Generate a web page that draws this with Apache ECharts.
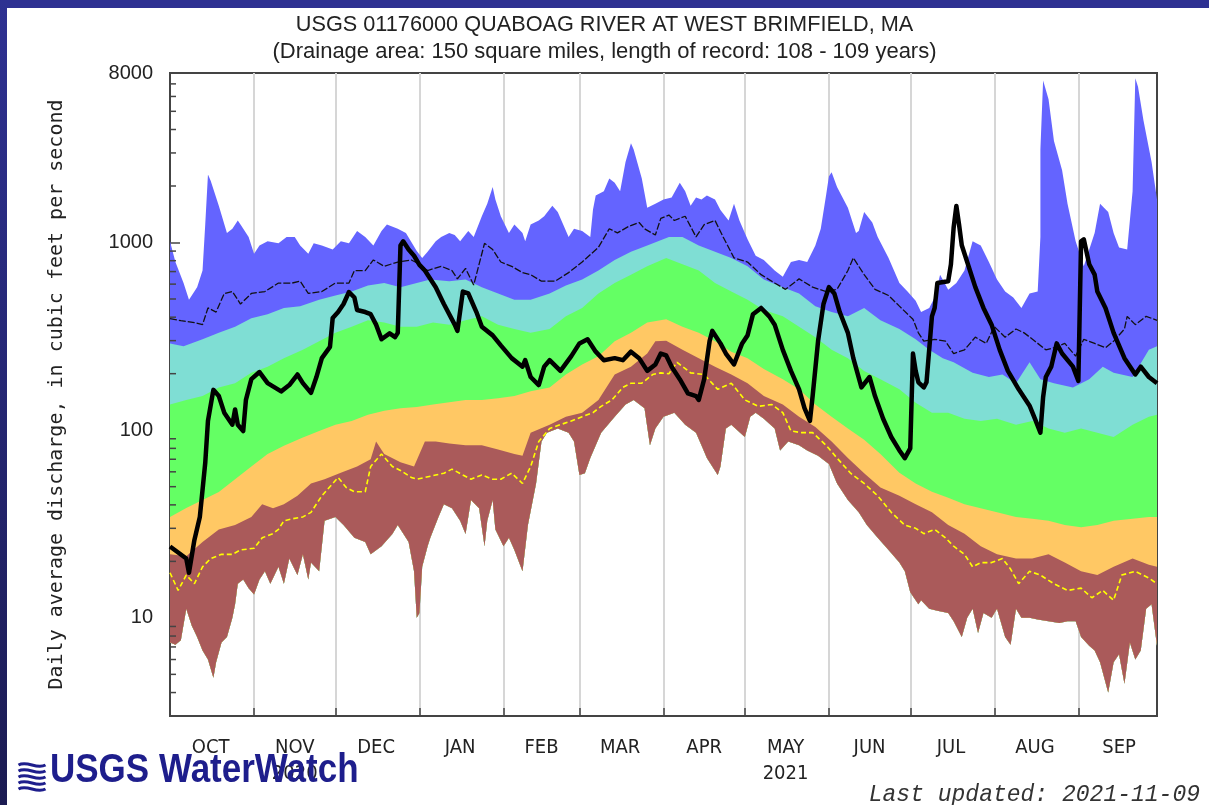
<!DOCTYPE html>
<html><head><meta charset="utf-8">
<script src="https://cdn.jsdelivr.net/npm/echarts@6/dist/echarts.min.js"></script>
<style>html,body{margin:0;padding:0;background:#fff;} #c{width:1209px;height:805px;}</style>
</head><body><div id="c"></div>
<script>
// x = day index, 0 = 2020-10-01 (water year 2021); y = discharge, cfs
const startMs = Date.UTC(2020, 9, 1);
const categories = [];
for (let i = 0; i < 365; i++) categories.push(new Date(startMs + i * 86400000).toISOString().slice(0, 10));
const monthNames = {'10':'OCT','11':'NOV','12':'DEC','01':'JAN','02':'FEB','03':'MAR','04':'APR','05':'MAY','06':'JUN','07':'JUL','08':'AUG','09':'SEP'};
const yearUnder = {'11':'2020','05':'2021'};
const yTickLabels = [10, 100, 1000, 8000];
const yMinorTicks = [4,5,6,7,8,9,20,30,40,50,60,70,80,90,200,300,400,500,600,700,800,900,2000,3000,4000,5000,6000,7000];

const maxFlow = [[0,1015],[2,786],[5,608],[7,496],[10,578],[12,709],[13,1250],[14,2300],[15,2134],[18,1569],[21,1125],[23,1184],[25,1310],[26,1246],[29,1070],[31,871],[33,965],[36,1015],[40,990],[43,1070],[46,1070],[48,965],[51,871],[53,990],[56,965],[60,917],[63,1015],[66,990],[69,1153],[72,1070],[75,965],[78,1153],[80,1246],[84,1184],[87,1125],[91,900],[93,828],[95,893],[98,1015],[100,1070],[103,1125],[105,1096],[107,1015],[110,1153],[112,1070],[115,1380],[117,1610],[119,1978],[120,1693],[122,1380],[125,1125],[127,1246],[130,1125],[131,1015],[133,1246],[136,1310],[138,1380],[141,1569],[143,1453],[145,1246],[147,1070],[149,1184],[152,1153],[155,1070],[156,1500],[157,1782],[160,1878],[162,2190],[164,2080],[166,1878],[168,2688],[170,3380],[171,3134],[174,2190],[176,1530],[179,1610],[182,1693],[185,1737],[188,2080],[190,1878],[192,1569],[194,1737],[196,1693],[198,1782],[201,1693],[203,1490],[206,1310],[208,1610],[210,1310],[213,1040],[216,849],[219,807],[223,709],[226,657],[229,787],[232,807],[235,787],[238,965],[240,1184],[242,1800],[243,2249],[244,2365],[246,1978],[250,1530],[253,1125],[254,1153],[256,1453],[259,1278],[261,1070],[265,828],[269,608],[272,548],[275,490],[277,426],[280,448],[282,509],[284,674],[287,560],[290,608],[293,709],[296,1015],[299,965],[302,787],[305,635],[308,548],[311,509],[314,448],[317,535],[320,548],[321,1070],[321,3134],[322,7300],[324,5800],[326,3473],[329,2426],[331,1610],[334,1015],[337,747],[341,1125],[343,1610],[346,1453],[348,1125],[350,940],[353,917],[355,1878],[356,7500],[357,6761],[359,4485],[362,2688],[364,1693]];
const pct90 = [[0,290],[5,280],[12,305],[18,330],[24,356],[30,395],[36,415],[42,448],[48,458],[55,496],[61,522],[67,548],[73,590],[79,608],[85,578],[91,608],[96,635],[103,622],[109,635],[115,578],[121,535],[127,496],[133,496],[140,535],[146,590],[152,635],[158,709],[164,807],[170,893],[176,965],[184,1070],[189,1070],[195,965],[201,893],[207,828],[213,747],[219,635],[226,578],[232,535],[238,458],[244,426],[250,404],[256,448],[262,385],[269,346],[275,305],[280,268],[285,242],[289,230],[296,202],[302,192],[307,198],[312,178],[317,230],[321,187],[326,178],[333,169],[339,187],[344,218],[348,202],[355,192],[361,268],[364,280]];
const pct75 = [[0,137],[6,145],[12,152],[18,169],[24,178],[30,202],[36,218],[42,242],[49,268],[55,298],[61,330],[67,356],[73,385],[79,375],[85,356],[91,356],[97,375],[103,365],[109,385],[115,404],[121,365],[127,346],[133,330],[140,346],[146,404],[152,448],[158,535],[164,608],[170,674],[176,747],[183,828],[189,766],[195,709],[201,608],[207,548],[213,496],[219,437],[226,404],[232,356],[238,313],[244,268],[250,242],[256,207],[262,187],[269,165],[275,140],[281,124],[287,124],[293,115],[299,112],[305,115],[312,107],[318,112],[324,102],[330,97],[336,102],[342,97],[348,92],[355,107],[361,118],[364,121]];
const pct25 = [[0,34.5],[6,38.5],[12,42.4],[18,46.8],[24,54.8],[30,64],[36,74.7],[42,82.7],[49,91.5],[55,99],[61,107],[67,112],[73,121],[79,127],[85,131],[91,133],[97,137],[103,141],[109,145],[115,145],[121,148],[127,152],[133,161],[140,169],[146,198],[152,224],[158,248],[164,298],[170,330],[176,375],[183,390],[189,356],[195,330],[201,298],[207,262],[213,242],[219,212],[226,187],[232,165],[238,137],[244,118],[250,102],[256,89],[262,74.7],[269,59.3],[275,52],[281,47],[287,43.6],[293,40.3],[299,38.4],[305,36.5],[312,34.5],[318,33.7],[324,32.9],[330,31.2],[336,30.4],[342,31.2],[348,32.9],[355,33.7],[361,34.5],[364,34.5]];
const pct10 = [[0,21.8],[6,21.3],[12,25.4],[18,29.6],[24,31.2],[30,34.5],[34,40.3],[38,38.4],[42,40.3],[47,44.7],[52,52],[57,54.8],[63,59.3],[69,64],[74,70],[76,87],[79,74.7],[85,67.4],[90,64],[94,87],[98,87],[103,85],[109,83],[115,83],[121,79],[127,74.7],[130,73],[133,97],[140,107],[146,118],[152,124],[158,145],[164,198],[170,218],[176,256],[179,298],[183,300],[189,268],[195,242],[201,218],[207,198],[213,178],[219,152],[226,137],[232,118],[238,104],[244,87],[250,71],[256,59],[262,49.5],[269,44.7],[275,40.3],[281,36.5],[287,31.2],[293,28.1],[299,24.1],[305,21.8],[312,20.7],[318,20.7],[324,21.8],[330,19.7],[336,17.7],[342,16.9],[348,18.7],[355,20.7],[361,19.2],[364,18.7]];
const minFlow = [[0,7.4],[2,7.2],[4,7.6],[6,11.2],[8,9.1],[10,7.9],[12,6.7],[14,6.0],[16,4.8],[17,5.8],[19,7.4],[21,7.9],[23,10],[24,11.8],[25,15.2],[27,16],[29,14.4],[31,13.3],[33,16],[35,17.7],[37,15.2],[40,18.7],[42,15.2],[44,20.7],[47,16.9],[49,21.8],[51,16],[52,19.7],[55,17.7],[57,32.9],[61,34.5],[64,31.2],[68,26.7],[72,25.4],[74,21.8],[78,24.1],[82,28],[84,31.2],[88,25.4],[90,17.7],[91,10],[92,10.6],[93,18.7],[95,24.1],[96,26.7],[99,34.5],[101,40.3],[104,38.4],[107,32.9],[109,28],[111,42.4],[114,38.4],[116,24.1],[117,32.9],[119,42.4],[120,29.6],[123,24.1],[125,26.7],[127,23],[130,17.7],[132,31.2],[135,52],[137,87],[139,97],[143,102],[147,97],[149,87],[151,57.7],[153,59],[155,71],[159,97],[164,118],[168,137],[171,145],[175,131],[177,83],[179,102],[182,118],[186,124],[190,107],[194,97],[196,83],[198,71],[202,57.7],[203,64],[205,102],[207,107],[212,92],[214,118],[216,124],[219,115],[223,102],[225,78],[228,87],[232,83],[235,78],[239,73],[243,66],[246,52],[250,42.4],[254,36.5],[257,31.2],[261,26.7],[265,23],[269,19.7],[271,17.7],[273,13.7],[276,11.8],[277,12.4],[280,11.2],[283,10.9],[287,10.6],[289,9.6],[292,7.9],[294,10],[296,11.2],[298,8.3],[300,10.6],[303,10],[305,11.2],[308,7.9],[310,7.2],[312,11.2],[314,10],[317,10],[320,9.8],[324,9.6],[328,9.4],[331,9.6],[334,9.6],[336,7.9],[339,7.1],[341,6.7],[343,5.8],[346,4.0],[348,5.8],[350,6.4],[352,4.45],[354,7.4],[356,6.0],[358,6.7],[360,11.2],[362,11.8],[364,7.1]];
const meanFlow = [[0,393],[4,383],[9,374],[12,365],[14,448],[17,426],[20,535],[23,548],[26,470],[30,535],[35,548],[40,608],[45,608],[48,622],[51,535],[56,548],[61,608],[66,608],[68,709],[72,709],[75,807],[79,747],[84,787],[89,807],[91,780],[95,709],[100,747],[104,709],[106,640],[109,728],[112,593],[116,990],[119,917],[122,787],[126,747],[130,691],[133,674],[137,622],[142,622],[147,691],[152,787],[158,942],[162,1184],[165,1125],[169,1214],[173,1278],[175,1184],[179,1096],[181,1345],[184,1400],[186,1310],[190,1380],[194,1070],[197,1246],[201,1310],[204,1070],[208,828],[213,787],[218,674],[223,608],[227,563],[232,640],[237,578],[242,548],[246,563],[250,709],[252,828],[256,674],[260,563],[265,522],[269,458],[274,390],[276,330],[278,298],[282,305],[286,298],[289,256],[293,268],[297,313],[301,290],[304,356],[308,313],[312,346],[315,330],[319,298],[323,268],[326,275],[330,290],[334,248],[337,305],[341,290],[345,275],[348,298],[352,346],[353,404],[356,365],[360,404],[364,385]];
const yellowLine = [[0,17.4],[3,14],[6,16.9],[9,15.2],[12,18.7],[15,20.7],[19,21.8],[23,21.8],[26,23],[31,23.5],[34,26.7],[38,28.1],[40,29.6],[42,32.9],[45,33.7],[49,34.5],[52,36.5],[56,44.7],[60,52],[62,56],[65,49.5],[68,47],[72,47],[74,64],[78,74.7],[82,64],[85,61],[89,56],[91,54.8],[94,56],[98,57.7],[101,59],[104,62],[108,57.7],[111,54.8],[115,57.7],[119,54.8],[122,54.8],[126,59],[130,52],[133,64],[136,87],[140,102],[144,107],[148,112],[152,118],[156,124],[159,134],[163,145],[167,169],[170,178],[174,178],[178,198],[181,202],[184,200],[187,230],[192,202],[197,198],[202,165],[207,178],[212,145],[217,134],[222,137],[226,124],[229,99],[233,97],[237,97],[242,83],[246,71],[251,59],[256,52],[261,44.7],[266,36.5],[271,31.2],[275,30],[278,28.1],[282,29.6],[286,26.7],[289,24.1],[293,21.8],[296,18.7],[299,19.7],[303,19.7],[307,20.7],[310,18.2],[313,15.2],[317,17.7],[321,16.9],[326,15.2],[331,14],[336,14.4],[340,12.8],[344,14],[348,12.4],[351,16.9],[356,17.7],[361,16.3],[364,15.2]];
const currentFlow = [[0,24],[3,22.3],[6,20.7],[7,17.4],[9,26],[11,34.5],[13,67],[14,112],[16,164],[18,152],[20,124],[23,107],[24,129],[25,107],[27,99],[28,145],[30,187],[33,204],[36,178],[41,161],[44,174],[47,198],[49,178],[52,158],[54,192],[56,242],[59,278],[60,396],[62,426],[64,470],[66,545],[68,509],[69,437],[72,426],[74,415],[76,365],[78,305],[81,328],[83,313],[84,330],[85,965],[86,1015],[88,917],[90,850],[92,760],[94,709],[98,578],[101,470],[105,365],[106,338],[108,548],[110,535],[113,426],[115,356],[119,320],[122,283],[126,242],[130,218],[131,236],[133,192],[136,174],[138,218],[140,236],[144,207],[148,248],[151,290],[154,305],[157,262],[160,236],[164,242],[167,236],[170,262],[173,242],[176,207],[179,224],[181,256],[183,250],[185,218],[188,187],[191,157],[194,152],[195,145],[197,187],[199,298],[200,338],[203,290],[205,256],[208,224],[211,290],[213,320],[215,415],[218,448],[221,404],[223,365],[226,268],[229,207],[232,165],[234,131],[236,112],[237,152],[239,298],[241,470],[243,578],[245,535],[247,426],[250,330],[252,242],[255,169],[258,192],[260,152],[263,115],[266,92],[269,78],[271,71],[273,80],[274,256],[275,207],[276,180],[278,169],[279,180],[281,404],[282,448],[283,608],[287,622],[288,765],[289,1200],[290,1566],[291,1246],[292,966],[294,787],[297,578],[300,448],[303,365],[306,268],[309,207],[313,165],[317,135],[319,115],[321,97],[322,150],[323,192],[325,218],[327,290],[329,256],[333,218],[335,183],[336,1015],[337,1040],[339,766],[341,674],[342,548],[345,448],[348,330],[352,242],[356,198],[358,218],[361,192],[364,178]];

function isMonthStart(i, v) { return v.slice(8) === '01'; }
function isLabelDay(i, v) { return v.slice(5, 7) === '02' ? v.slice(8) === '15' : v.slice(8) === '16'; }

function band(name, upper, lower, color, z) {
  return {
    type: 'custom', name, coordinateSystem: 'cartesian2d', silent: true, z,
    data: [[0, 10]], clip: true,
    renderItem: function (params, api) {
      const pts = upper.map(p => api.coord(p)).concat(lower.slice().reverse().map(p => api.coord(p)));
      return { type: 'polygon', shape: { points: pts }, style: { fill: color } };
    }
  };
}

const chart = echarts.init(document.getElementById('c'));
chart.setOption({
  animation: false,
  backgroundColor: '#ffffff',
  title: {
    text: 'USGS 01176000 QUABOAG RIVER AT WEST BRIMFIELD, MA',
    subtext: '(Drainage area: 150 square miles, length of record: 108 - 109 years)',
    left: 'center', top: 9, itemGap: 5,
    textStyle: { fontFamily: 'Liberation Sans, Arial, sans-serif', fontSize: 21.7, fontWeight: 'normal', color: '#222' },
    subtextStyle: { fontFamily: 'Liberation Sans, Arial, sans-serif', fontSize: 22, color: '#222' }
  },
  grid: { left: 170, top: 73, width: 987, height: 643, show: true, borderColor: '#444', borderWidth: 2, backgroundColor: 'transparent' },
  xAxis: {
    type: 'category', data: categories, boundaryGap: false,
    axisLine: { show: true, lineStyle: { color: '#444', width: 2 } },
    axisTick: { show: true, inside: true, length: 8, interval: isMonthStart, lineStyle: { color: '#444', width: 1.5 } },
    splitLine: { show: true, interval: isMonthStart, lineStyle: { color: '#d6d6d6', width: 2 } },
    axisLabel: {
      interval: isLabelDay, margin: 19, color: '#222', fontSize: 20, lineHeight: 26,
      fontFamily: 'Liberation Sans Narrow, DejaVu Sans Condensed, Liberation Sans, sans-serif',
      formatter: function (v) { const m = v.slice(5, 7); return monthNames[m] + (yearUnder[m] ? '\n' + yearUnder[m] : ''); }
    }
  },
  yAxis: {
    type: 'log', logBase: 10, min: 3, max: 8000,
    name: 'Daily average discharge, in cubic feet per second',
    nameLocation: 'middle', nameGap: 103, nameRotate: 90,
    nameTextStyle: { fontFamily: 'DejaVu Sans Mono, monospace', fontSize: 20, color: '#222' },
    axisLine: { show: true, lineStyle: { color: '#444', width: 2 } },
    axisTick: { show: true, inside: true, length: 10, lineStyle: { color: '#444', width: 1.5 } },
    splitLine: { show: false },
    axisLabel: {
      showMinLabel: false, margin: 17, color: '#222', fontSize: 20,
      fontFamily: 'Liberation Sans, Arial, sans-serif',
      formatter: function (v) { const r = Math.round(v); return yTickLabels.indexOf(r) >= 0 ? String(r) : ''; }
    }
  },
  series: [
    band('Max', maxFlow, minFlow, '#6464ff', 1),
    band('90th percentile', pct90, minFlow, '#7fded4', 2),
    band('75th percentile', pct75, minFlow, '#64ff64', 3),
    band('25th percentile', pct25, minFlow, '#ffc864', 4),
    band('10th percentile', pct10, minFlow, '#aa5a5a', 5),
    { type: 'line', name: 'Median', data: yellowLine, z: 6, symbol: 'none', silent: true,
      lineStyle: { color: '#ffff00', width: 1.6, type: [5, 3] } },
    { type: 'line', name: 'Mean', data: meanFlow, z: 7, symbol: 'none', silent: true,
      lineStyle: { color: '#111', width: 1.3, type: [7, 2] } },
    { type: 'line', name: 'Flow', data: currentFlow, z: 8, symbol: 'none', silent: true,
      lineStyle: { color: '#000', width: 4.5, join: 'round' } },
    { type: 'custom', name: 'minorTicks', coordinateSystem: 'cartesian2d', silent: true, z: 9, clip: false,
      data: [[0, 10]],
      renderItem: function (params, api) {
        return { type: 'group', children: yMinorTicks.map(function (v) {
          const p = api.coord([0, v]);
          return { type: 'line', shape: { x1: p[0], y1: p[1], x2: p[0] + 6, y2: p[1] }, style: { stroke: '#444', lineWidth: 1.5 } };
        }) };
      } }
  ],
  graphic: [
    { type: 'rect', left: 0, top: 0, shape: { width: 1209, height: 8 }, style: { fill: '#2e3192' }, z: 100 },
    { type: 'rect', left: 0, top: 0, shape: { width: 7, height: 805 }, z: 100,
      style: { fill: new echarts.graphic.LinearGradient(0, 0, 0, 1, [{ offset: 0, color: '#2e3192' }, { offset: 1, color: '#1b1b52' }]) } },
    { type: 'group', left: 16, top: 761, z: 100, children: [0, 1, 2, 3, 4].map(function (i) {
        return { type: 'bezierCurve', shape: { x1: 0, y1: i * 6 + 2, cpx1: 9, cpy1: i * 6 - 3, cpx2: 18, cpy2: i * 6 + 7, x2: 27, y2: i * 6 + 2 },
          style: { stroke: '#1e1e8c', lineWidth: 3, fill: null } };
      }) },
    { type: 'text', x: 50, y: 751, scaleY: 1.15, z: 100,
      style: { text: 'USGS WaterWatch', fill: '#1e1e8c', font: 'bold 35px "Liberation Sans", Arial, sans-serif' } },
    { type: 'text', right: 9, top: 783, z: 100,
      style: { text: 'Last updated: 2021-11-09', fill: '#333', font: 'italic 23px "Liberation Mono", "Courier New", monospace' } }
  ]
});
</script>
</body></html>
